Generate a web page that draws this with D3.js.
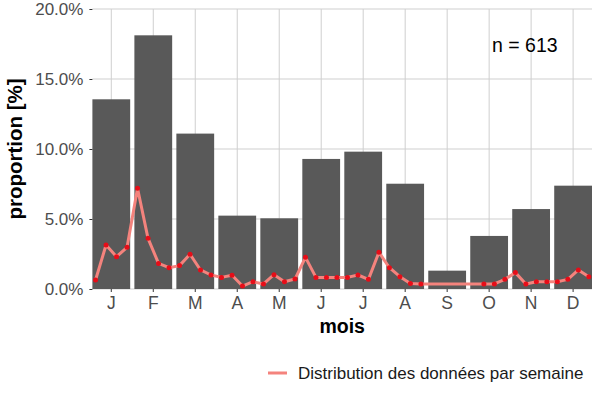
<!DOCTYPE html>
<html>
<head>
<meta charset="utf-8">
<script src="https://cdn.jsdelivr.net/npm/d3@7"></script>
<style>
  body { margin: 0; background: #fff; }
  svg { font-family: "Liberation Sans", Arial, sans-serif; }
</style>
</head>
<body>
<svg id="chart" width="600" height="400"></svg>
<script>
// month labels and monthly proportions (%)
const months = ["J", "F", "M", "A", "M", "J", "J", "A", "S", "O", "N", "D"];
const monthValues = [13.55, 18.12, 11.1, 5.24, 5.05, 9.29, 9.81, 7.52, 1.31, 3.79, 5.71, 7.38];

// weekly proportions (%), 4 per month, null = no data that week
const weekValues = [
  0.64, 3.14, 2.31, 2.98,
  7.19, 3.62, 1.83, 1.52,
  1.67, 2.48, 1.36, 1.00,
  0.83, 0.98, 0.21, 0.52,
  0.36, 1.02, 0.52, 0.71,
  2.26, 0.83, 0.83, 0.83,
  0.83, 1.00, 0.69, 2.62,
  1.52, 0.88, 0.40, 0.36,
  null, null, null, null,
  null, 0.36, 0.36, 0.69,
  1.17, 0.36, 0.52, 0.52,
  0.52, 0.69, 1.36, 0.88
];

const yTicks = [0, 5, 10, 15, 20];
const nLabel = "n = 613";
const legendLabel = "Distribution des données par semaine";

const margin = {top: 9, right: 8, bottom: 111, left: 92.4};
const width = 600 - margin.left - margin.right;
const height = 400 - margin.top - margin.bottom;

const svg = d3.select("#chart");
const g = svg.append("g").attr("transform", `translate(${margin.left},${margin.top})`);

// bars fill the panel with no outer padding
const x = d3.scaleBand().domain(d3.range(months.length)).range([0, width])
  .paddingInner(0.1).paddingOuter(0);
// continuous month position (1 = J) for weekly points
const xPos = d3.scaleLinear().domain([0.55, months.length + 0.45]).range([0, width]);
const y = d3.scaleLinear().domain([0, 20]).range([height, 0]);

// grid
g.append("g").selectAll("line").data(yTicks).join("line")
  .attr("x1", 0).attr("x2", width)
  .attr("y1", d => y(d)).attr("y2", d => y(d))
  .attr("stroke", "#cfcfcf").attr("stroke-width", 1);
g.append("g").selectAll("line").data(months).join("line")
  .attr("x1", (d, i) => x(i) + x.bandwidth() / 2).attr("x2", (d, i) => x(i) + x.bandwidth() / 2)
  .attr("y1", 0).attr("y2", height)
  .attr("stroke", "#cfcfcf").attr("stroke-width", 1);

// bars
g.append("g").selectAll("rect").data(monthValues).join("rect")
  .attr("x", (d, i) => x(i))
  .attr("width", x.bandwidth())
  .attr("y", d => y(d))
  .attr("height", d => height - y(d))
  .attr("fill", "#595959");

// weekly line
const weeks = weekValues.map((v, k) => ({
  pos: Math.floor(k / 4) + 1 + ((k % 4) - 1.5) / 4,
  v: v
})).filter(d => d.v !== null);

const line = d3.line().x(d => xPos(d.pos)).y(d => y(d.v));
g.append("path").datum(weeks)
  .attr("fill", "none")
  .attr("stroke", "#f4837d")
  .attr("stroke-width", 3)
  .attr("stroke-linejoin", "round")
  .attr("d", line);
g.append("g").selectAll("circle").data(weeks).join("circle")
  .attr("cx", d => xPos(d.pos)).attr("cy", d => y(d.v))
  .attr("r", 2.5).attr("fill", "#e60d18");

// axes
const yAxis = g.append("g")
  .call(d3.axisLeft(y).tickValues(yTicks).tickFormat(d => d.toFixed(1) + "%").tickSize(3).tickPadding(6));
const xAxis = g.append("g").attr("transform", `translate(0,${height})`)
  .call(d3.axisBottom(x).tickFormat(i => months[i]).tickSize(3).tickPadding(5));
[yAxis, xAxis].forEach(a => {
  a.select(".domain").remove();
  a.selectAll(".tick line").attr("stroke", "#333");
  a.selectAll(".tick text").attr("fill", "#4d4d4d")
    .attr("font-family", "Liberation Sans, Arial, sans-serif");
});
yAxis.selectAll(".tick text").attr("font-size", 17);
xAxis.selectAll(".tick text").attr("font-size", 17.5);

// titles
g.append("text").attr("x", width / 2).attr("y", height + 43.5)
  .attr("text-anchor", "middle").attr("font-size", 19.5).attr("font-weight", "bold")
  .text("mois");
svg.append("text")
  .attr("transform", `translate(22,${margin.top + height / 2}) rotate(-90)`)
  .attr("text-anchor", "middle").attr("font-size", 20.5).attr("font-weight", "bold")
  .text("proportion [%]");

// annotation
g.append("text").attr("x", xPos(10.85)).attr("y", y(17.4) + 7)
  .attr("text-anchor", "middle").attr("font-size", 19.5).attr("fill", "#000")
  .text(nLabel);

// legend
const lg = svg.append("g").attr("transform", "translate(268,373)");
lg.append("line").attr("x1", 0).attr("x2", 19).attr("y1", 0).attr("y2", 0)
  .attr("stroke", "#f4837d").attr("stroke-width", 3);
lg.append("text").attr("x", 30).attr("y", 6).attr("font-size", 17).attr("fill", "#1a1a1a")
  .text(legendLabel);
</script>
</body>
</html>
